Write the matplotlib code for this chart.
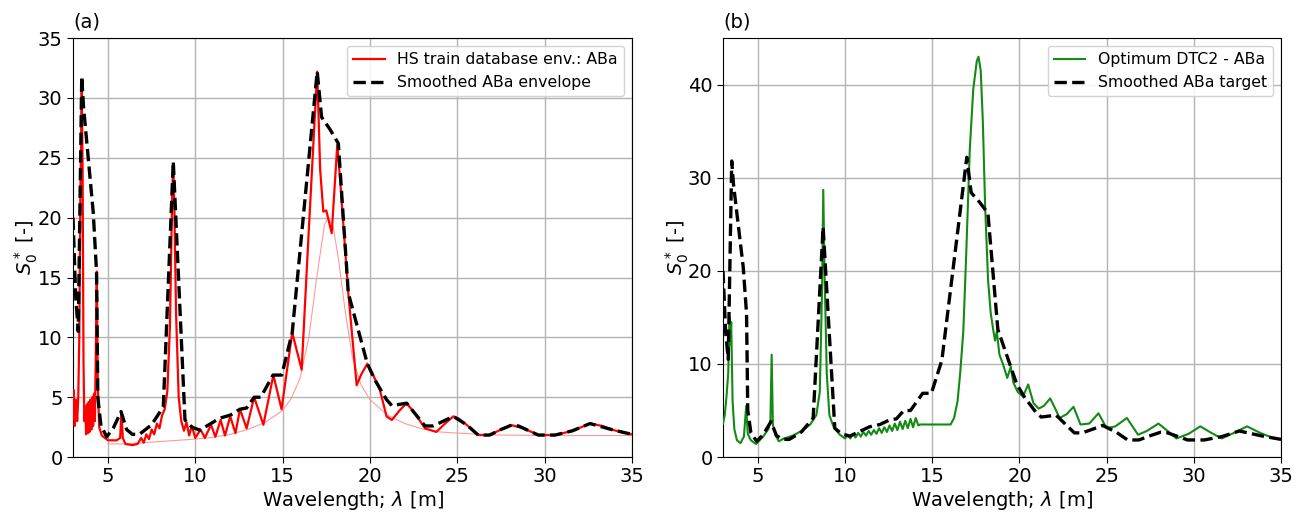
import matplotlib
matplotlib.use("Agg")
import matplotlib.pyplot as plt

# ---- (a) HS train database envelope (ABa) ----
lam_hs = [3.0, 3.04, 3.1, 3.17, 3.24, 3.3, 3.36, 3.42, 3.5, 3.55, 3.6, 3.65, 3.7, 3.75,
          3.8, 3.85, 3.9, 3.95, 4.0, 4.05, 4.1, 4.15, 4.2, 4.25, 4.3, 4.36, 4.42, 4.5,
          4.65, 5.0, 5.5, 5.7, 5.77, 5.85, 6.0, 6.4, 6.7, 6.9, 7.05, 7.2, 7.35, 7.5,
          7.65, 7.8, 7.95, 8.1, 8.25, 8.4, 8.55, 8.68, 8.74, 8.8, 8.9, 9.05, 9.2, 9.35,
          9.5, 9.65, 9.8, 10.0, 10.3, 10.55, 10.9, 11.15, 11.45, 11.7, 12.0, 12.3,
          12.56, 12.94, 13.37, 13.9, 14.47, 14.94, 15.55, 16.09, 16.5, 16.98, 17.15,
          17.33, 17.5, 17.81, 18.13, 18.3, 18.76, 19.24, 19.5, 19.85, 20.2, 20.57,
          20.95, 21.25, 21.7, 22.1, 22.6, 23.15, 23.8, 24.3, 24.77, 25.1, 25.53, 26.2,
          26.85, 27.5, 28.1, 28.8, 29.64, 30.6, 31.6, 32.6, 33.3, 33.93, 35.0]
s_hs = [3.2, 5.6, 2.6, 4.8, 3.0, 5.0, 10.0, 22.0, 30.5, 24.0, 8.0, 3.0, 4.2, 1.9,
        4.4, 2.0, 4.6, 2.1, 4.8, 2.3, 5.0, 2.6, 5.3, 3.0, 8.0, 15.5, 6.0, 2.5,
        1.8, 1.4, 1.4, 1.6, 3.8, 1.6, 1.1, 1.0, 1.1, 1.6, 1.2, 1.9, 1.5, 2.3,
        1.9, 2.8, 2.4, 3.5, 4.0, 5.5, 11.0, 22.0, 24.5, 21.0, 12.0, 5.0, 3.0, 2.2,
        2.9, 1.8, 2.6, 1.6, 2.3, 1.6, 2.7, 1.7, 3.1, 1.8, 3.4, 2.0,
        4.0, 2.4, 5.0, 2.7, 6.85, 4.0, 10.4, 7.3, 19.0, 32.2, 24.0,
        20.5, 20.6, 18.7, 26.1, 23.0, 13.7, 6.0, 6.9, 7.8, 6.8, 5.6,
        3.4, 3.1, 3.9, 4.5, 3.6, 2.4, 2.1, 2.8, 3.4, 3.2, 2.7, 1.84,
        1.84, 2.3, 2.67, 2.4, 1.84, 1.84, 2.2, 2.8, 2.6, 2.26, 1.9]

# Reference spectrum underneath the envelope
lam_ref = [5.0, 6.0, 7.0, 8.0, 9.0, 10.0, 11.0, 12.0, 13.0, 14.0, 15.0, 15.5, 16.0,
           16.5, 17.0, 17.4, 17.6, 17.9, 18.2, 18.6, 19.0, 19.5, 20.0, 21.0, 22.0,
           23.0, 24.0, 25.0, 27.0, 30.0, 35.0]
s_ref = [1.1, 1.1, 1.2, 1.3, 1.4, 1.5, 1.65, 1.9, 2.3, 2.9, 3.9, 4.9, 6.6,
         10.0, 15.5, 19.4, 20.0, 19.2, 16.5, 12.0, 8.3, 6.0, 4.8, 3.5, 2.8,
         2.35, 2.1, 2.0, 1.85, 1.8, 1.8]

# Smoothed ABa envelope / target
lam_smooth = [3.0, 3.15, 3.3, 3.5, 3.6, 4.16, 4.35, 4.42, 4.6, 4.93, 5.3, 5.75, 6.07,
              6.4, 6.8, 7.5, 8.17, 8.74, 9.41, 9.8, 10.27, 11.4, 12.0, 12.56, 12.94,
              13.37, 13.75, 14.45, 14.95, 15.55, 16.98, 17.23, 17.7, 18.19, 18.76,
              19.85, 20.3, 20.95, 21.25, 22.1, 23.15, 23.6, 24.2, 24.77, 25.53, 26.2,
              26.85, 27.5, 28.1, 28.5, 29.64, 30.6, 31.6, 32.6, 33.93, 35.0]
s_smooth = [20.0, 13.5, 10.5, 31.8, 29.3, 20.4, 15.4, 5.0, 2.6, 1.7, 2.4, 3.8, 2.3,
            1.9, 1.9, 2.7, 4.2, 24.7, 3.1, 2.5, 2.25, 3.25, 3.5, 4.0, 4.1,
            5.0, 5.0, 6.85, 6.85, 10.4, 32.2, 28.4, 27.4, 26.2, 13.7,
            7.8, 6.4, 4.8, 4.3, 4.5, 2.6, 2.6, 3.0, 3.4, 2.7, 1.84,
            1.84, 2.3, 2.67, 2.6, 1.84, 1.84, 2.2, 2.8, 2.26, 1.9]

# ---- (b) Optimum DTC2 - ABa ----
lam_dtc = [3.0, 3.1, 3.2, 3.3, 3.38, 3.42, 3.47, 3.55, 3.65, 3.8, 4.0, 4.2, 4.33, 4.42,
           4.6, 4.9, 5.3, 5.6, 5.72, 5.79, 5.86, 6.0, 6.2, 6.5, 7.0, 7.5, 8.0, 8.35,
           8.55, 8.68, 8.75, 8.82, 8.95, 9.1, 9.35, 9.7, 10.0,
           10.15, 10.3, 10.45, 10.6, 10.75, 10.9, 11.05, 11.2, 11.35, 11.5, 11.65,
           11.8, 11.95, 12.1, 12.25, 12.4, 12.55, 12.7, 12.85, 13.0, 13.15, 13.3,
           13.45, 13.6, 13.75, 13.9, 14.05, 14.2, 14.3, 16.05, 16.25, 16.45, 16.6,
           16.78, 16.95, 17.15, 17.35, 17.55, 17.65, 17.78, 17.9, 18.03, 18.2, 18.35,
           18.5, 18.6, 18.7, 18.85, 19.05, 19.3, 19.5, 19.65, 19.9, 20.2, 20.5, 20.8,
           21.1, 21.4, 21.76, 22.0, 22.3, 22.7, 23.1, 23.5, 24.0, 24.53, 25.0, 25.5,
           26.16, 26.8, 27.3, 27.97, 28.5, 29.0, 29.7, 30.37, 31.0, 31.6, 32.3,
           33.05, 33.8, 34.6, 35.0]
s_dtc = [3.6, 4.5, 6.5, 9.0, 15.0, 12.0, 14.5, 6.0, 3.0, 1.8, 1.5, 2.2, 5.5, 2.5,
         1.8, 1.4, 2.2, 3.0, 4.0, 11.0, 3.5, 2.4, 1.7, 2.0, 2.3, 2.8, 3.5, 4.5,
         7.0, 18.0, 28.7, 20.0, 9.0, 4.5, 3.2, 2.4, 2.0,
         2.4, 2.0, 2.5, 2.1, 2.6, 2.2, 2.7, 2.3, 2.8, 2.4, 2.9,
         2.5, 3.1, 2.6, 3.2, 2.7, 3.4, 2.8, 3.6, 2.9, 3.8, 3.0,
         3.9, 3.1, 4.1, 3.2, 4.2, 3.4, 3.5, 3.5, 4.2, 6.0, 9.0,
         13.5, 22.0, 33.0, 39.5, 42.5, 43.0, 41.5, 36.0, 27.0, 19.0, 15.5,
         13.6, 12.5, 13.5, 11.0, 10.0, 8.5, 9.7, 8.0, 7.0, 6.5, 7.8, 5.8,
         5.2, 5.5, 6.3, 5.4, 4.2, 4.6, 5.4, 3.5, 3.6, 4.7, 3.1, 3.3,
         4.2, 2.4, 2.8, 3.6, 2.8, 2.0, 2.5, 3.3, 2.6, 2.0, 2.6,
         3.3, 2.6, 2.0, 1.9]

x_ticks = [5, 10, 15, 20, 25, 30, 35]
y_ticks_a = [0, 5, 10, 15, 20, 25, 30, 35]
y_ticks_b = [0, 10, 20, 30, 40]

fig = plt.figure(figsize=(13.06, 5.13), dpi=100)
ax_a = fig.add_axes([0.0559, 0.109, 0.428, 0.8168])
ax_b = fig.add_axes([0.5536, 0.109, 0.4273, 0.8168])

grid_kw = dict(color="#b3b3b3", linewidth=1.0)

# Panel (a)
ax_a.plot(lam_ref, s_ref, color="#ff9a9a", linewidth=0.8, zorder=2)
ax_a.plot(lam_hs, s_hs, color="red", linewidth=1.6, zorder=3,
          label="HS train database env.: ABa")
ax_a.plot(lam_smooth, s_smooth, color="black", linestyle="--", linewidth=2.4,
          zorder=4, label="Smoothed ABa envelope")
ax_a.set_xlim(3, 35)
ax_a.set_ylim(0, 35)
ax_a.set_yticks(y_ticks_a)

# Panel (b)
ax_b.plot(lam_dtc, s_dtc, color="#138a13", linewidth=1.5, zorder=3,
          label="Optimum DTC2 - ABa")
ax_b.plot(lam_smooth, s_smooth, color="black", linestyle="--", linewidth=2.4,
          zorder=4, label="Smoothed ABa target")
ax_b.set_xlim(3, 35)
ax_b.set_ylim(0, 45)
ax_b.set_yticks(y_ticks_b)

for ax, tag in ((ax_a, "(a)"), (ax_b, "(b)")):
    ax.set_xticks(x_ticks)
    ax.grid(True, **grid_kw)
    ax.set_axisbelow(True)
    ax.tick_params(labelsize=14, length=4)
    ax.set_xlabel(r"Wavelength; $\lambda$ [m]", fontsize=14, labelpad=2)
    ax.set_ylabel(r"$S_0^*$ [-]", fontsize=14, labelpad=-2)
    ax.text(0.0, 1.015, tag, transform=ax.transAxes, fontsize=14,
            ha="left", va="bottom")
    leg = ax.legend(loc="upper right", fontsize=11.3, framealpha=0.85,
                    edgecolor="#cccccc", borderaxespad=0.5)

fig.savefig("out.png", dpi=100)
